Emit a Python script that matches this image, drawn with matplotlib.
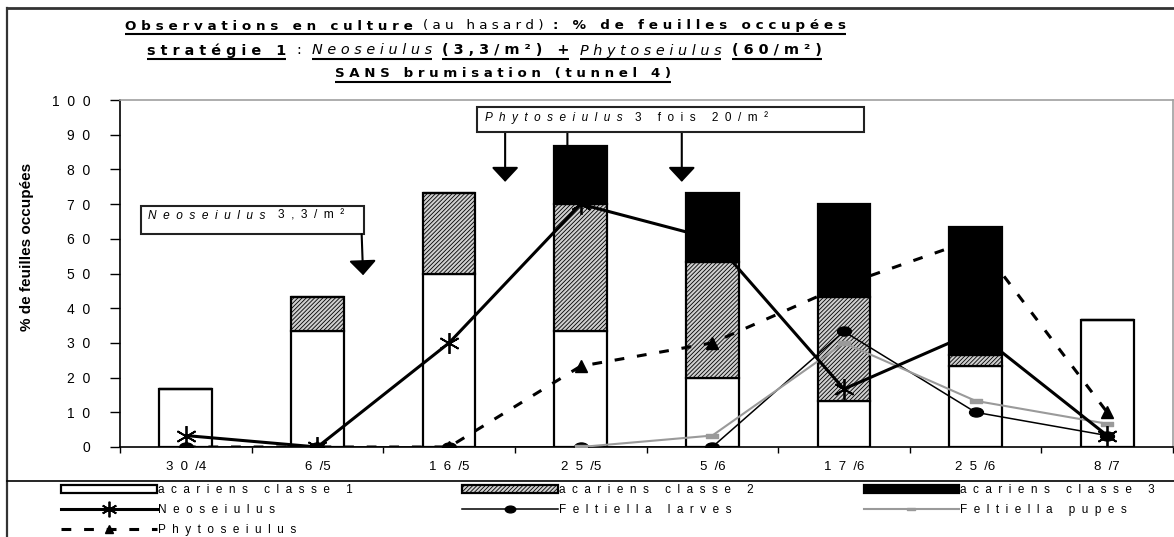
import numpy as np
import matplotlib
matplotlib.use("Agg")
import matplotlib.pyplot as plt
from matplotlib.path import Path
from matplotlib.lines import Line2D
from matplotlib.patches import Rectangle
from matplotlib.transforms import IdentityTransform

# ---------------------------------------------------------------- data
dates = ["30/4", "6/5", "16/5", "25/5", "5/6", "17/6", "25/6", "8/7"]
classe1 = [16.7, 33.3, 50.0, 33.3, 20.0, 13.3, 23.3, 36.7]
classe2 = [0.0, 10.0, 23.3, 36.7, 33.3, 30.0, 3.3, 0.0]
classe3 = [0.0, 0.0, 0.0, 16.7, 20.0, 26.7, 36.7, 0.0]
neoseiulus = [3.3, 0.0, 30.0, 70.0, 60.0, 16.7, 33.3, 3.3]
feltiella_larves = [0.0, 0.0, 0.0, 0.0, 0.0, 33.3, 10.0, 3.3]
feltiella_pupes = [np.nan, np.nan, np.nan, 0.0, 3.3, 30.0, 13.3, 6.7]
phytoseiulus = [0.0, 0.0, 0.0, 23.3, 30.0, 46.7, 60.0, 10.0]
y_ticks = list(range(0, 101, 10))

# ---------------------------------------------------------------- figure
W, H, DPI = 1174, 537, 100
plt.rcParams["font.family"] = ["Liberation Sans", "DejaVu Sans"]
plt.rcParams["hatch.linewidth"] = 0.6

fig = plt.figure(figsize=(W / DPI, H / DPI), dpi=DPI)
fig.patch.set_facecolor("white")


def fx(px):
    return px / W


def fy(py):
    return 1 - py / H


def track(s, gap=2, word=5):
    """Spread the letters of a string out with blank spaces."""
    return (" " * word).join((" " * gap).join(w) for w in s.split(" "))


def date_label(d):
    day, month = d.split("/")
    return track(day, 2) + "  /" + month


ax = fig.add_axes([fx(120), fy(447), fx(1173) - fx(120), fy(100) - fy(447)])
x = np.arange(len(dates))
bw = 0.4

b1 = ax.bar(x, classe1, bw, color="white", edgecolor="black", lw=1.6, zorder=2)
b2 = ax.bar(x, classe2, bw, bottom=classe1, color="#cfcfcf", edgecolor="black",
            hatch="////////", lw=1.6, zorder=2)
bottom3 = np.add(classe1, classe2)
b3 = ax.bar(x, classe3, bw, bottom=bottom3, color="black", edgecolor="black",
            lw=1.6, zorder=2)

circle = Path.unit_circle()
ellipse = Path(circle.vertices * [1.0, 0.65], circle.codes)
dash_mark = Path([(-1, -0.33), (1, -0.33), (1, 0.33), (-1, 0.33), (-1, -0.33)],
                 [Path.MOVETO, Path.LINETO, Path.LINETO, Path.LINETO, Path.CLOSEPOLY])

l_neo, = ax.plot(x, neoseiulus, color="black", lw=2.2, marker=(6, 2, 0), ms=15,
                 mew=1.3, zorder=5)
l_lar, = ax.plot(x, feltiella_larves, color="black", lw=1.1, marker=ellipse,
                 ms=10, zorder=4)
l_pup, = ax.plot(x, feltiella_pupes, color="#9a9a9a", lw=1.5, marker=dash_mark,
                 ms=8.5, zorder=4)
l_phy, = ax.plot(x, phytoseiulus, color="black", lw=2.2, ls=(0, (3.2, 4.2)),
                 marker="^", ms=8, zorder=4)

ax.set_xlim(-0.5, 7.5)
ax.set_ylim(0, 100)
ax.set_yticks(y_ticks)
ax.set_yticklabels([track(str(v), 2) for v in y_ticks], fontsize=10)
ax.tick_params(axis="y", length=7.2, width=1, pad=14, direction="out")
ax.set_xticks(x)
ax.set_xticklabels([date_label(d) for d in dates], fontsize=9.5)
ax.tick_params(axis="x", which="major", length=0, pad=10)
ax.set_xticks(np.arange(-0.5, len(dates)), minor=True)
ax.tick_params(axis="x", which="minor", length=4, width=1, direction="out")
for side in ("top", "right"):
    ax.spines[side].set_color("#a0a0a0")
    ax.spines[side].set_linewidth(1.2)
for side in ("left", "bottom"):
    ax.spines[side].set_color("black")
    ax.spines[side].set_linewidth(1.2)

# ------------------------------------------------------- release arrows
arrow_style = "-|>,head_length=0.45,head_width=0.42"
ax.add_patch(Rectangle((-0.343, 61.3), 1.699, 8.2, facecolor="white",
                       edgecolor="#222222", lw=1.5, zorder=6))
ax.annotate("", xy=(1.347, 49.5), xytext=(1.336, 61.3),
            arrowprops=dict(arrowstyle=arrow_style, mutation_scale=20, lw=1.5,
                            color="black", shrinkA=0, shrinkB=0), zorder=6)

ax.add_patch(Rectangle((2.21, 90.7), 2.946, 7.2, facecolor="white",
                       edgecolor="#222222", lw=1.5, zorder=6, clip_on=False))
for xa in (2.426, 2.899, 3.768):
    ax.annotate("", xy=(xa, 76.4), xytext=(xa, 90.7),
                arrowprops=dict(arrowstyle=arrow_style, mutation_scale=20,
                                lw=1.5, color="black", shrinkA=0, shrinkB=0),
                zorder=1)

# ------------------------------------------------------- rich text lines
renderer = fig.canvas.get_renderer()


def seg_width(text, size, kw):
    t = fig.text(0, 0, text, transform=IdentityTransform(), fontsize=size, **kw)
    w = t.get_window_extent(renderer).width
    t.remove()
    return w


def rich_line(segments, left, baseline, size, gap, right=None, underline=None,
              family=None):
    """Draw styled segments side by side in pixel space (y from the top)."""
    fam = {} if family is None else {"family": family}
    if right is not None:
        total = sum(seg_width(s, size, {**k, **fam}) for s, k, _ in segments)
        total += gap * (len(segments) - 1)
        scale = (right - left) / total
        size *= scale
        gap *= scale
    spans = []
    xpos = left
    for text, kw, ul in segments:
        t = fig.text(xpos, H - baseline, text, transform=IdentityTransform(),
                     fontsize=size, ha="left", va="baseline", zorder=7,
                     **{**kw, **fam})
        w = t.get_window_extent(renderer).width
        spans.append((xpos, xpos + w, ul))
        xpos += w + gap
    if underline == "all":
        runs = [(spans[0][0], spans[-1][1])]
    elif underline == "each":
        runs = [(a, b) for a, b, ul in spans if ul]
    else:
        runs = []
    for a, b in runs:
        fig.add_artist(Line2D([a, b], [H - baseline - 4.5] * 2,
                              transform=IdentityTransform(), color="black",
                              lw=1.5, solid_capstyle="butt"))
    return size


B = {"fontweight": "bold"}
N = {}
I = {"fontstyle": "italic"}
title_font = ["DejaVu Sans"]

rich_line([(track("Observations en culture", 1, 3), B, True),
           (track("(au hasard)", 1, 3), N, True),
           (track(": % de feuilles occupées", 1, 3), B, True)],
          125, 29.5, 9, 9, right=842, underline="all", family=title_font)
rich_line([(track("stratégie 1", 1, 3), B, True),
           (":", N, False),
           (track("Neoseiulus", 1, 3), I, True),
           (track("(3,3/m²) +", 1, 3), B, True),
           (track("Phytoseiulus", 1, 3), I, True),
           (track("(60/m²)", 1, 3), B, True)],
          147, 54.5, 9, 9, right=820, underline="each", family=title_font)
rich_line([(track("SANS brumisation (tunnel 4)", 1, 3), B, True)],
          335, 77.5, 9, 9, right=672, underline="all", family=title_font)

rich_line([(track("Neoseiulus", 2, 5), I, False),
           (track("3,3/m²", 2, 5), N, False)],
          148, 219, 8.5, 12, right=343)
rich_line([(track("Phytoseiulus", 2, 5), I, False),
           (track("3 fois 20/m²", 2, 5), N, False)],
          485, 121, 8.5, 12, right=768)

fig.text(fx(27), fy(247), "% de feuilles occupées", rotation=90,
         fontweight="bold", fontsize=11, ha="center", va="center")

# ------------------------------------------------------------- legend
blank = Line2D([], [], color="none")
handles = [b1, l_neo, l_phy, b2, l_lar, blank, b3, l_pup]
labels = [track("acariens classe 1"), track("Neoseiulus"),
          track("Phytoseiulus"), track("acariens classe 2"),
          track("Feltiella larves"), "", track("acariens classe 3"),
          track("Feltiella pupes")]
fig.legend(handles, labels, loc="upper left", bbox_to_anchor=(fx(61), fy(484)),
           ncol=3, frameon=False, fontsize=8.5, handlelength=8.1,
           handletextpad=0.1, columnspacing=9.3, labelspacing=0.68,
           borderpad=0, borderaxespad=0, numpoints=1, markerscale=0.75)

# ------------------------------------------------------------- frame lines
for xs, ys, c, lw in [([7, 7], [8, H], "#333333", 1.6),
                      ([7, W], [8, 8], "#333333", 2.0),
                      ([7, W], [480.5, 480.5], "black", 1.2)]:
    fig.add_artist(Line2D([fx(v) for v in xs], [fy(v) for v in ys],
                          transform=fig.transFigure, color=c, lw=lw))

fig.savefig("out.png", dpi=DPI, facecolor="white")
